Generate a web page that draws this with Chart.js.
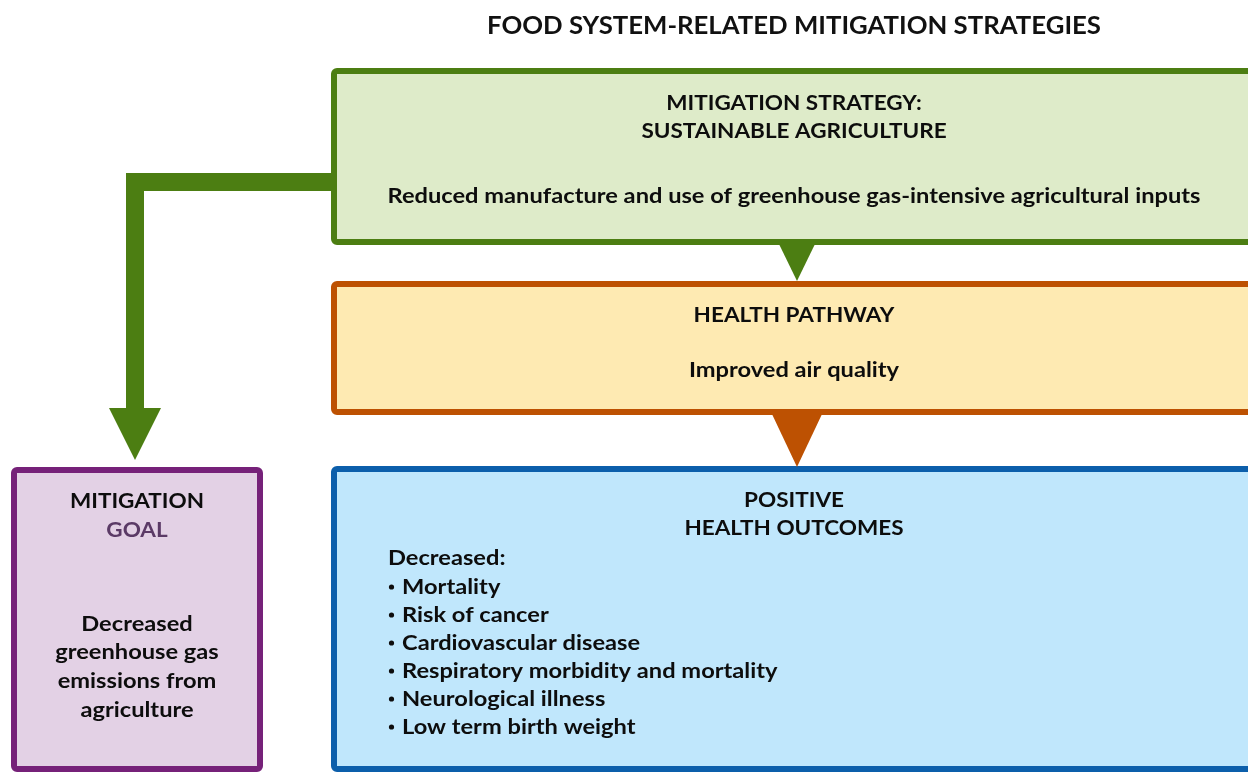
<!DOCTYPE html>
<html>
<head>
<meta charset="utf-8">
<script src="https://cdn.jsdelivr.net/npm/chart.js@4.4.1/dist/chart.umd.min.js"></script>
<style>
  html,body{margin:0;padding:0;background:#ffffff;}
  #wrap{width:1248px;height:772px;position:relative;}
</style>
</head>
<body>
<div id="wrap"><canvas id="c" width="1248" height="772"></canvas></div>
<script>
// ---- content (text of the diagram) ----
const chartTitle = "FOOD SYSTEM-RELATED MITIGATION STRATEGIES";
const strategyHeader = ["MITIGATION STRATEGY:", "SUSTAINABLE AGRICULTURE"];
const strategyText = ["Reduced manufacture and use of greenhouse gas-intensive agricultural inputs"];
const pathwayHeader = ["HEALTH PATHWAY"];
const pathwayText = ["Improved air quality"];
const outcomeHeader = ["POSITIVE", "HEALTH OUTCOMES"];
const outcomeIntro = ["Decreased:"];
const outcomeItems = ["Mortality", "Risk of cancer", "Cardiovascular disease",
  "Respiratory morbidity and mortality", "Neurological illness", "Low term birth weight"];
const goalHeader = ["MITIGATION"];
const goalSubHeader = ["GOAL"];
const goalText = ["Decreased", "greenhouse gas", "emissions from", "agriculture"];

// ---- layout (diagram units, mapped through the chart's x/y scales) ----
const layout = {
  boxes: [
    {id:'strategy', x0:331, x1:1262, y0:68,  y1:245, fill:'#deebc9', stroke:'#4c7e12'},
    {id:'pathway',  x0:331, x1:1262, y0:281, y1:415, fill:'#feeab2', stroke:'#bd5102'},
    {id:'outcome',  x0:331, x1:1262, y0:466, y1:772, fill:'#c0e7fc', stroke:'#0c5fab'},
    {id:'goal',     x0:11,  x1:263,  y0:467, y1:772, fill:'#e3d1e5', stroke:'#762179'}
  ],
  border: 6,
  elbow: {color:'#4c7e12', pts:[[334,173],[126,173],[126,408],[109,408],[135,460],[161,408],[144,408],[144,191],[334,191]]},
  tri: [
    {color:'#4c7e12', pts:[[778,242],[816,242],[797,281]]},
    {color:'#bd5102', pts:[[771,412],[823,412],[797,467]]}
  ]
};

const FONT = 'Lato, "Open Sans", "DejaVu Sans", sans-serif';

const diagramPlugin = {
  id: 'diagram',
  afterDraw(chart) {
    const ctx = chart.ctx;
    const sx = chart.scales.x, sy = chart.scales.y;
    const X = v => sx.getPixelForValue(v);
    const Y = v => sy.getPixelForValue(v);

    function poly(p, color) {
      ctx.beginPath();
      p.forEach((q, i) => { if (i === 0) ctx.moveTo(X(q[0]), Y(q[1])); else ctx.lineTo(X(q[0]), Y(q[1])); });
      ctx.closePath();
      ctx.fillStyle = color;
      ctx.fill();
    }
    ctx.save();
    poly(layout.elbow.pts, layout.elbow.color);

    const bw = layout.border;
    layout.boxes.forEach(b => {
      const l = X(b.x0), r = X(b.x1), t = Y(b.y0), bt = Y(b.y1);
      ctx.beginPath();
      ctx.roundRect(l + bw/2, t + bw/2, (r - l) - bw, (bt - t) - bw, 3);
      ctx.fillStyle = b.fill;
      ctx.fill();
      ctx.lineWidth = bw;
      ctx.strokeStyle = b.stroke;
      ctx.stroke();
    });
    layout.tri.forEach(t => poly(t.pts, t.color));

    // text helpers
    const bodyFont = 'bold 21px ' + FONT;
    const titleFont = 'bold 25px ' + FONT;
    ctx.font = bodyFont;
    const kBody = 813 / ctx.measureText(strategyText[0]).width;
    const kHead = kBody * 0.952;
    ctx.font = titleFont;
    const kTitle = 614 / ctx.measureText(chartTitle).width;
    const dy = 2;

    function txt(s, x, y, font, k, align, color) {
      ctx.save();
      ctx.font = font;
      ctx.fillStyle = color || '#0d0d0d';
      ctx.textBaseline = 'middle';
      ctx.textAlign = align;
      ctx.translate(X(x), Y(y + dy));
      ctx.scale(k, 1);
      ctx.fillText(s, 0, 0);
      ctx.restore();
    }
    function lines(arr, x, y0, step, align, color, k) {
      arr.forEach((s, i) => txt(s, x, y0 + i * step, bodyFont, k || kBody, align, color));
    }

    txt(chartTitle, 794, 24, titleFont, kTitle, 'center', '#111111');
    lines(strategyHeader, 794, 101, 28, 'center', null, kHead);
    lines(strategyText, 794, 194, 28, 'center');
    lines(pathwayHeader, 794, 313, 28, 'center', null, kHead);
    lines(pathwayText, 794, 368, 28, 'center');
    lines(outcomeHeader, 794, 498, 28, 'center', null, kHead);
    lines(outcomeIntro, 388, 556, 28, 'left');
    outcomeItems.forEach((s, i) => {
      ctx.beginPath();
      ctx.arc(X(391.5), Y(585 + i * 28 + dy), 2.6, 0, Math.PI * 2);
      ctx.fillStyle = '#0d0d0d';
      ctx.fill();
      txt(s, 402, 585 + i * 28, bodyFont, kBody, 'left');
    });
    lines(goalHeader, 137, 499, 28, 'center', null, kHead);
    lines(goalSubHeader, 137, 528, 28, 'center', '#5b3a66', kHead);
    lines(goalText, 137, 622, 28.6, 'center');
    ctx.restore();
  }
};

new Chart(document.getElementById('c'), {
  type: 'scatter',
  data: { datasets: [{ data: [], pointRadius: 0 }] },
  options: {
    responsive: false,
    animation: false,
    devicePixelRatio: 1,
    layout: { padding: 0 },
    plugins: { legend: { display: false }, tooltip: { enabled: false }, title: { display: false } },
    scales: {
      x: { type: 'linear', min: 0, max: 1248, display: false },
      y: { type: 'linear', min: 0, max: 772, reverse: true, display: false }
    }
  },
  plugins: [diagramPlugin]
});
</script>
</body>
</html>
